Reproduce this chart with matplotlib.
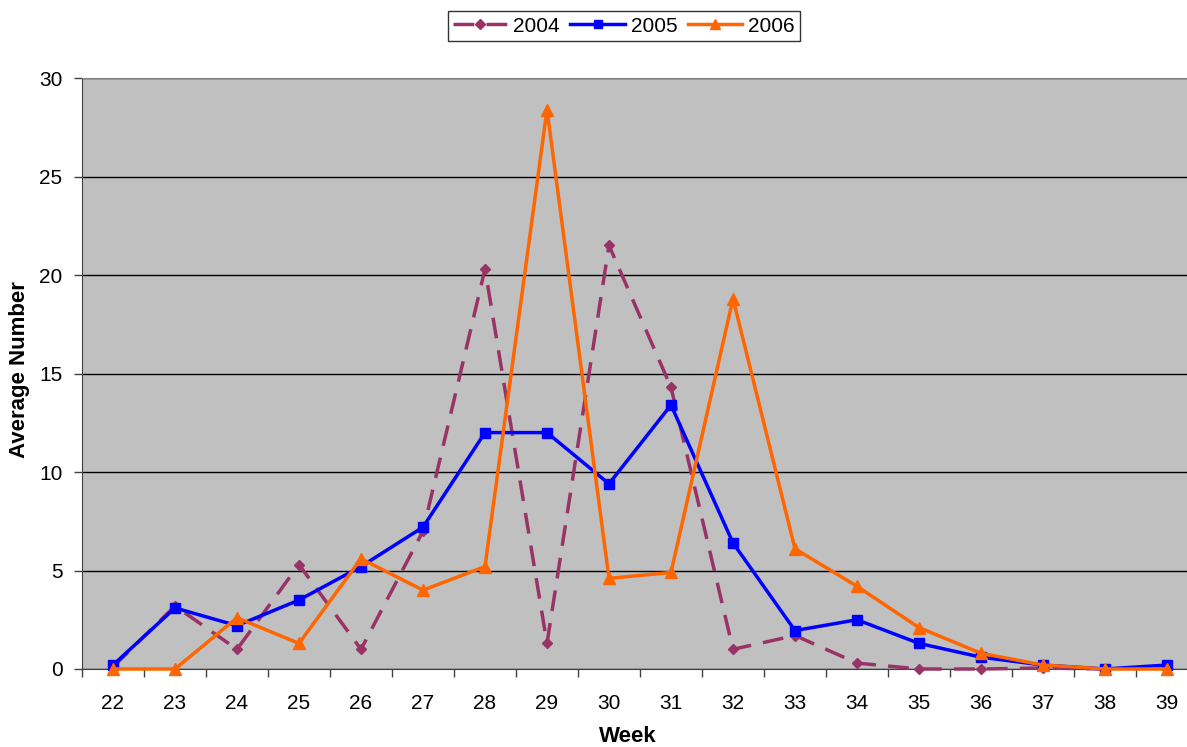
import matplotlib.pyplot as plt
from matplotlib.lines import Line2D

plt.rcParams['font.family'] = ['Liberation Sans', 'DejaVu Sans']

weeks = list(range(22, 40))
weeks_2004 = list(range(22, 39))
y2004 = [0.1, 3.2, 1.0, 5.3, 1.0, 7.0, 20.3, 1.3, 21.5, 14.3, 1.0, 1.7, 0.3, 0.0, 0.0, 0.05, 0.0]
y2005 = [0.2, 3.1, 2.2, 3.5, 5.2, 7.2, 12.0, 12.0, 9.4, 13.4, 6.4, 1.95, 2.5, 1.3, 0.6, 0.2, 0.0, 0.2]
y2006 = [0.0, 0.0, 2.6, 1.3, 5.6, 4.0, 5.2, 28.4, 4.6, 4.9, 18.8, 6.1, 4.2, 2.1, 0.8, 0.2, 0.0, 0.0]

fig = plt.figure(figsize=(11.87, 7.47), dpi=100)
W, H = 1187, 747
# plot area runs past the right edge of the picture, as in the original
ax = fig.add_axes([82 / W, (H - 669) / H, 1116 / W, 591 / H])
ax.set_facecolor('#c0c0c0')

ax.plot(weeks_2004, y2004, color='#993366', lw=2.5, dashes=(6, 3.5),
        marker='D', ms=5, clip_on=False, zorder=3)
ax.plot(weeks, y2005, color='#0000ff', lw=2.5, marker='s', ms=7, clip_on=False, zorder=4)
ax.plot(weeks, y2006, color='#ff6600', lw=2.5, marker='^', ms=8, clip_on=False, zorder=5)

ax.set_xlim(21.5, 39.5)
ax.set_ylim(0, 30)
ax.set_yticks(range(0, 31, 5))
ax.set_xticks(weeks)
ax.set_xticks([w + 0.5 for w in range(21, 39)], minor=True)
ax.tick_params(axis='x', which='major', length=0, labelsize=15, pad=18)
ax.tick_params(axis='x', which='minor', length=6, width=1, color='#404040')
ax.tick_params(axis='y', length=6, width=1, color='#404040', labelsize=15, pad=8)
ax.grid(axis='y', color='black', lw=1)
ax.set_axisbelow(True)
ax.spines['right'].set_visible(False)
ax.spines['top'].set_color('#808080')
ax.spines['left'].set_color('#404040')
ax.spines['bottom'].set_color('#404040')

fig.text(628 / W, 1 - 737 / H, 'Week', ha='center', va='center', fontsize=16, fontweight='bold')
fig.text(20 / W, 1 - 370 / H, 'Average Number', ha='center', va='center', rotation=90,
         fontsize=16, fontweight='bold')

handles = [
    Line2D([], [], color='#993366', lw=2.5, dashes=(6, 3.5), marker='D', ms=5),
    Line2D([], [], color='#0000ff', lw=2.5, marker='s', ms=6),
    Line2D([], [], color='#ff6600', lw=2.5, marker='^', ms=7),
]
leg = fig.legend(handles, ['2004', '2005', '2006'], loc='center', bbox_to_anchor=(624 / W, 1 - 26 / H),
                 ncol=3, frameon=True, fancybox=False, edgecolor='black', fontsize=15,
                 handlelength=2.6, handletextpad=0.3, columnspacing=0.5, borderpad=0.25)
leg.get_frame().set_linewidth(1)

fig.savefig('out.png', dpi=100)
